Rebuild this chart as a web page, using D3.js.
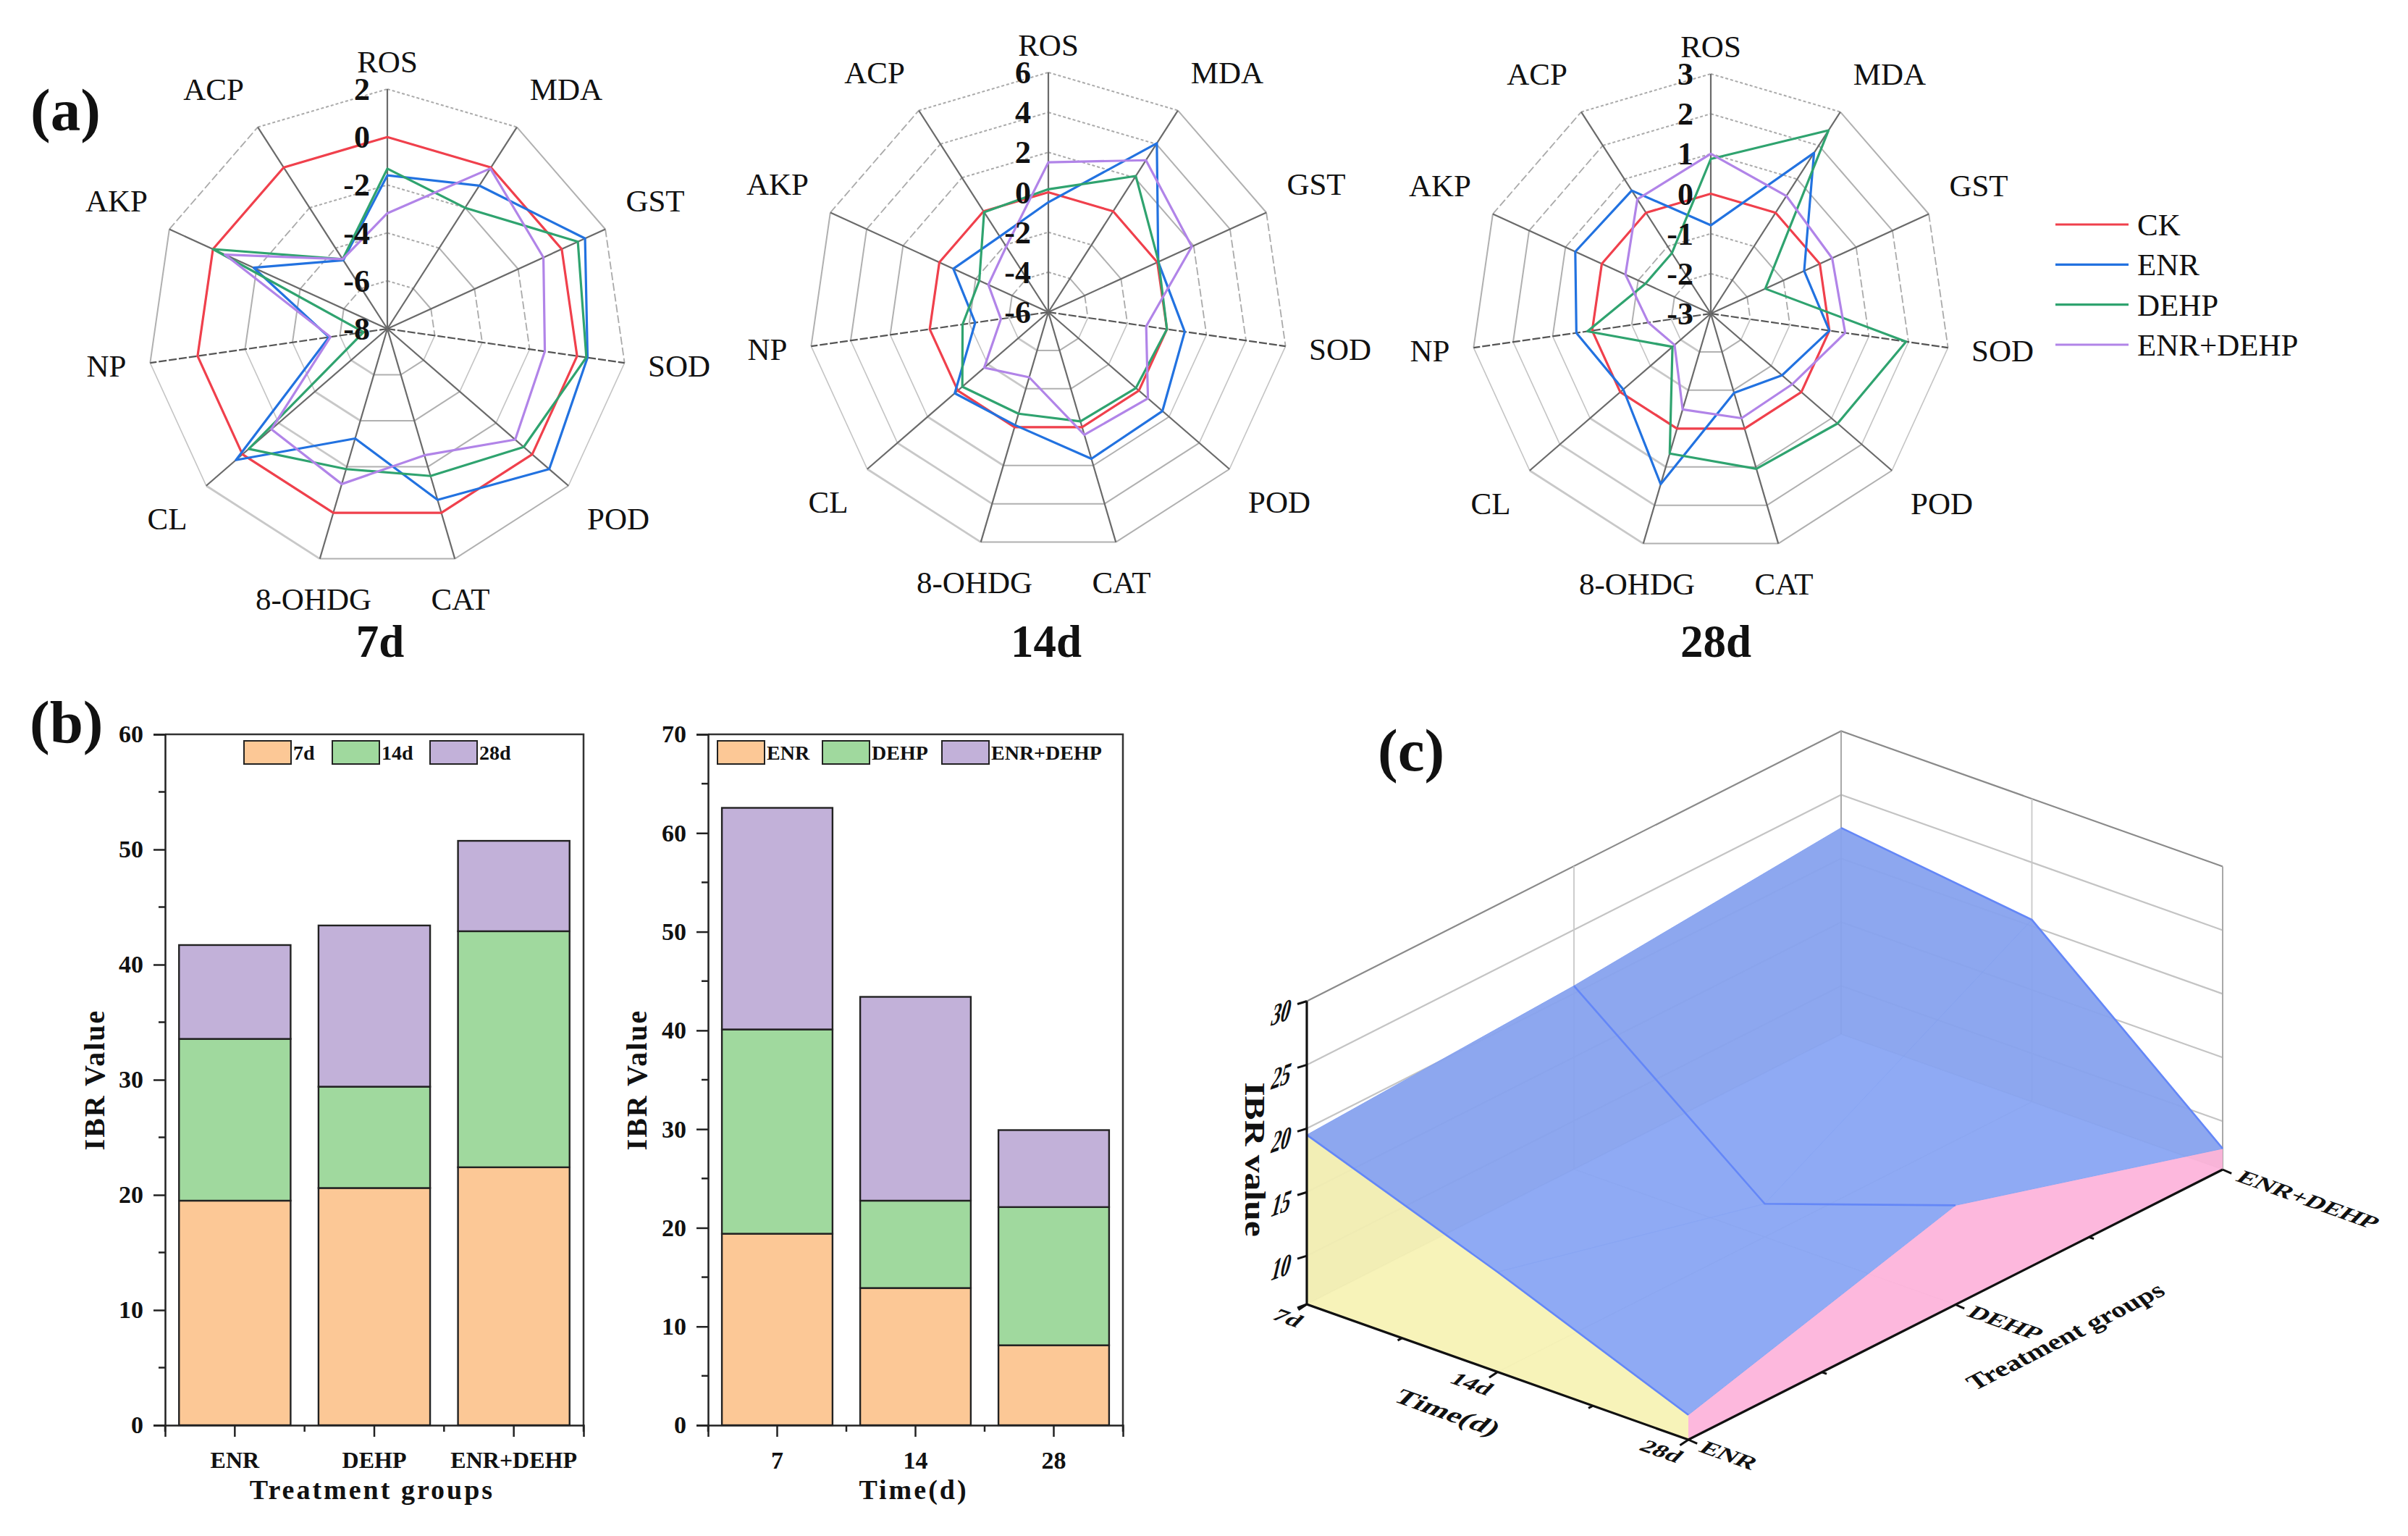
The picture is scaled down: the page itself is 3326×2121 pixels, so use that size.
<!DOCTYPE html>
<html>
<head>
<meta charset="utf-8">
<title>IBR</title>
<script src="https://cdnjs.cloudflare.com/ajax/libs/d3/7.8.5/d3.min.js"></script>
<style>
html,body{margin:0;padding:0;background:#fff;}
text{font-family:"Liberation Serif","Times New Roman",serif;fill:#111;}
</style>
</head>
<body>
<svg id="chart" width="3326" height="2121" viewBox="0 0 3326 2121"></svg>
<script>
// 데이터
var markers = ["ROS","MDA","GST","SOD","POD","CAT","8-OHDG","CL","NP","AKP","ACP"];
var radarSeries = ["CK","ENR","DEHP","ENR+DEHP"];

var ck_7d   = [0,0,0,0,0,0,0,0,0,0,0];
var enr_7d  = [-1.6,-0.9,1.07,0.44,0.94,-0.56,-3.23,0.36,-5.54,-1.87,-4.6];
var dehp_7d = [-1.32,-2,0.74,0.39,-0.47,-1.6,-1.9,-0.35,-7,0,-4.55];
var both_7d = [-3.18,-0.05,-0.84,-1.36,-0.94,-2.5,-1.25,-1.6,-5.6,-0.55,-4.55];

var ck_14d   = [0,0,0,0,0,0,0,0,0,0,0];
var enr_14d  = [-0.5,4.05,0.05,0.9,1.56,1.65,-0.1,0.2,-2.3,-0.77,-1.5];
var dehp_14d = [0.15,2.1,0.07,0,-0.2,-0.3,-0.7,-0.3,-1.66,-2.2,-0.05];
var both_14d = [1.5,3.04,1.9,-1.05,0.6,0.4,-2.6,-1.75,-3.6,-2.7,-2.1];

var ck_28d   = [0,0,0,0,0,0,0,0,0,0,0];
var enr_28d  = [-0.79,1.78,-0.43,0,-0.64,-0.93,1.45,-0.1,0.4,0.73,0.66];
var dehp_28d = [0.87,2.45,-1.5,1.94,1.2,1.05,0.65,-1.73,0.12,-1.2,-1.2];
var both_28d = [1,0.5,0.34,0.4,-0.3,-0.27,-0.5,-1.8,-1.42,-0.65,0.4];

var groups = ["ENR","DEHP","ENR+DEHP"];
var times = ["7","14","28"];
var timesD = ["7d","14d","28d"];

// b 왼쪽 (처리군별)
var ibr_7d  = [19.5,20.6,22.4];
var ibr_14d = [14.05,8.8,20.5];
var ibr_28d = [8.15,14,7.85];
// b 오른쪽 (시간별)
var ibr_enr  = [19.4,13.9,8.1];
var ibr_dehp = [20.7,8.85,14];
var ibr_both = [22.45,20.65,7.8];

var leftTicks = [0,10,20,30,40,50,60];
var rightTicks = [0,10,20,30,40,50,60,70];
var zTicks = [10,15,20,25,30];

// 색
var radarColors = ["#f0404c","#2272e0","#2fa36f","#b184e8"];
var barColors = ["#fcc896","#a0d99e","#c2b1d9"];

var svg = d3.select("#chart");
svg.append("rect").attr("width",3326).attr("height",2121).attr("fill","#fff");

// 패널 라벨
function panelLabel(s,x,y){
    svg.append("text").attr("x",x).attr("y",y).attr("font-size",83).attr("font-weight","bold").text(s);
}
panelLabel("(a)",42,180);
panelLabel("(b)",41,1025);
panelLabel("(c)",1903,1064);

// 레이더 차트
var labelOffsets = [[0,-354],[247,-316],[370,-162],[403,66],[319,277],[101,388],[-102,388],[-304,277],[-388,66],[-374,-162],[-240,-316]];
// 고리 구간 선 모양 (화면에서 보이는대로)
var ringDash = ["4 3",null,"11 4",null,null,null,null,null,null,"11 4","4 3"];
var ringWidth = [2,2,1.8,1.6,2,2,2.8,1.6,2,1.8,2];
var ringColor = ["#aaa","#b0b0b0","#aaa","#c4c4c4","#b0b0b0","#b0b0b0","#c8c8c8","#c4c4c4","#b0b0b0","#aaa","#aaa"];

function make_radar(cx,cy,domain,ticks,series,title,titleX){
    var R = 331;
    var r = d3.scaleLinear().domain(domain).range([0,R]);
    var angle = d3.scalePoint().domain(markers).range([0,2*Math.PI*10/11]);
    var g = svg.append("g").attr("transform","translate("+cx+","+cy+")");

    function pt(name,v){
        var a = angle(name);
        return [r(v)*Math.sin(a),-r(v)*Math.cos(a)];
    }
    // 고리
    ticks.slice(0,ticks.length-1).forEach(function(t){
        markers.forEach(function(m,i){
            var p0 = pt(m,t), p1 = pt(markers[(i+1)%markers.length],t);
            g.append("line").attr("x1",p0[0]).attr("y1",p0[1]).attr("x2",p1[0]).attr("y2",p1[1])
             .attr("stroke",ringColor[i]).attr("stroke-width",ringWidth[i])
             .attr("stroke-dasharray",ringDash[i]);
        });
    });
    // 축
    markers.forEach(function(m){
        var p = pt(m,domain[1]);
        var dashed = (m=="SOD"||m=="NP");
        g.append("line").attr("x1",0).attr("y1",0).attr("x2",p[0]).attr("y2",p[1])
         .attr("stroke",dashed?"#555":"#6a6a6a").attr("stroke-width",2.2)
         .attr("stroke-dasharray",dashed?"11 3":null);
    });
    // 선
    var line = d3.lineRadial()
        .angle(function(d,i){return angle(markers[i]);})
        .radius(function(d){return r(d);})
        .curve(d3.curveLinearClosed);
    series.forEach(function(arr,k){
        g.append("path").attr("d",line(arr)).attr("fill","none")
         .attr("stroke",radarColors[k]).attr("stroke-width",3.2).attr("stroke-linejoin","round");
    });
    // 눈금 글자
    ticks.forEach(function(t){
        g.append("text").attr("x",-24).attr("y",-r(t)+15).attr("text-anchor","end")
         .attr("font-size",44).attr("font-weight","bold").text(t);
    });
    // 축 이름
    markers.forEach(function(m,i){
        g.append("text").attr("x",labelOffsets[i][0]).attr("y",labelOffsets[i][1])
         .attr("text-anchor","middle").attr("font-size",43).text(m);
    });
    svg.append("text").attr("x",titleX).attr("y",907).attr("text-anchor","middle")
       .attr("font-size",63).attr("font-weight","bold").text(title);
}
make_radar(535,454,[-8,2],[2,0,-2,-4,-6,-8],[ck_7d,enr_7d,dehp_7d,both_7d],"7d",525);
make_radar(1448,431,[-6,6],[6,4,2,0,-2,-4,-6],[ck_14d,enr_14d,dehp_14d,both_14d],"14d",1445);
make_radar(2363,433,[-3,3],[3,2,1,0,-1,-2,-3],[ck_28d,enr_28d,dehp_28d,both_28d],"28d",2370);

// 범례
var lg = d3.scalePoint().domain(radarSeries).range([310,476]);
radarSeries.forEach(function(s,i){
    svg.append("line").attr("x1",2839).attr("x2",2940).attr("y1",lg(s)).attr("y2",lg(s))
       .attr("stroke",radarColors[i]).attr("stroke-width",3.2);
    svg.append("text").attr("x",2952).attr("y",lg(s)+15).attr("font-size",43).text(s);
});

// 누적 막대
function make_stack_bar(opt){
    var x = d3.scaleBand().domain(opt.cats).range([opt.x0,opt.x1]).paddingInner(0.2).paddingOuter(0.1);
    var y = d3.scaleLinear().domain([0,opt.max]).range([1968,1014]);
    var g = svg.append("g");

    opt.cats.forEach(function(c,i){
        var base = 0;
        opt.series.forEach(function(arr,k){
            var top = base+arr[i];
            g.append("rect").attr("x",x(c)).attr("width",x.bandwidth())
             .attr("y",y(top)).attr("height",y(base)-y(top))
             .attr("fill",barColors[k]).attr("stroke","#222").attr("stroke-width",2.4);
            base = top;
        });
    });
    // 테두리
    g.append("path").attr("d","M"+opt.x0+",1014H"+opt.x1+"V1968").attr("fill","none").attr("stroke","#333").attr("stroke-width",2.5);

    // y축
    var yAxis = d3.axisLeft(y).tickValues(opt.ticks).tickSize(16).tickPadding(14);
    var ya = g.append("g").attr("transform","translate("+opt.x0+",0)").call(yAxis);
    ya.selectAll("text").attr("font-size",34).attr("font-family","Liberation Serif").attr("font-weight","bold");
    ya.selectAll("path,line").attr("stroke","#222").attr("stroke-width",2.5);
    // 작은 눈금
    opt.ticks.slice(0,opt.ticks.length-1).forEach(function(t){
        g.append("line").attr("x1",opt.x0-9).attr("x2",opt.x0).attr("y1",y(t+5)).attr("y2",y(t+5)).attr("stroke","#222").attr("stroke-width",2.5);
    });
    // x축
    var xAxis = d3.axisBottom(x).tickSize(16).tickPadding(20);
    var xa = g.append("g").attr("transform","translate(0,1968)").call(xAxis);
    xa.selectAll("text").attr("font-size",opt.xFont).attr("font-family","Liberation Serif").attr("font-weight","bold");
    xa.selectAll("path,line").attr("stroke","#222").attr("stroke-width",2.5);
    d3.range(opt.cats.length+1).forEach(function(i){
        var px = opt.x0+i*(opt.x1-opt.x0)/opt.cats.length;
        g.append("line").attr("x1",px).attr("x2",px).attr("y1",1968).attr("y2",1977).attr("stroke","#222").attr("stroke-width",2.5);
    });

    g.append("text").attr("transform","translate("+opt.ylabelX+",1491) rotate(-90)")
     .attr("text-anchor","middle").attr("font-size",40).attr("font-weight","bold").attr("letter-spacing",2).text("IBR Value");
    g.append("text").attr("x",opt.xlabelX).attr("y",2070).attr("text-anchor","middle")
     .attr("font-size",38).attr("font-weight","bold").attr("letter-spacing",3).text(opt.xlabel);

    // 범례
    opt.legend.forEach(function(s,k){
        g.append("rect").attr("x",opt.legendX[k]).attr("y",1023).attr("width",65).attr("height",32)
         .attr("fill",barColors[k]).attr("stroke","#222").attr("stroke-width",2);
        g.append("text").attr("x",opt.legendX[k]+68).attr("y",1049).attr("font-size",28).attr("font-weight","bold").text(s);
    });
}
make_stack_bar({cats:groups,series:[ibr_7d,ibr_14d,ibr_28d],max:60,ticks:leftTicks,x0:228,x1:806,
    xFont:32,xlabel:"Treatment groups",xlabelX:514,ylabelX:144,legend:timesD,legendX:[337,459,594]});
make_stack_bar({cats:times,series:[ibr_enr,ibr_dehp,ibr_both],max:70,ticks:rightTicks,x0:978,x1:1551,
    xFont:34,xlabel:"Time(d)",xlabelX:1262,ylabelX:893,legend:groups,legendX:[991,1136,1301]});

// 3D 면 (c)
var ox=1805, oy=1801, tvx=527, tvy=187, gvx=738, gvy=-373;
var timeS = d3.scalePoint().domain(timesD).range([0,1]);
var groupS = d3.scalePoint().domain(groups).range([0,1]);
var zS = d3.scaleLinear().domain([6.2,30]).range([0,418.5]);
function project(t,g,z){
    return [ox+t*tvx+g*gvx, oy+t*tvy+g*gvy-zS(z)];
}
var poly = d3.line();
var c = svg.append("g");
function wire(points,color,w){
    c.append("path").attr("d",poly(points)).attr("fill","none").attr("stroke",color).attr("stroke-width",w);
}
// 벽 격자
zTicks.forEach(function(z){
    var col = z==30?"#8a8a8a":"#c4c4c4";
    wire([project(0,0,z),project(0,1,z),project(1,1,z)],col,2.2);
});
wire([project(0,.5,6.2),project(0,.5,30)],"#c8c8c8",1.8);
wire([project(.5,1,6.2),project(.5,1,30)],"#c8c8c8",1.8);
wire([project(0,1,6.2),project(0,1,30)],"#a8a8a8",2);
wire([project(1,1,6.2),project(1,1,30)],"#a8a8a8",2);
wire([project(0,0,6.2),project(0,1,6.2),project(1,1,6.2)],"#c4c4c4",2);
wire([project(.5,0,6.2),project(.5,1,6.2)],"#c8c8c8",1.8);
wire([project(0,.5,6.2),project(1,.5,6.2)],"#c8c8c8",1.8);

var surface = [ibr_7d,ibr_14d,ibr_28d];
function sp(ti,gi){
    return project(timeS(timesD[ti]),groupS(groups[gi]),surface[ti][gi]);
}
// 옆면
var yellowWall = [project(0,0,6.2),sp(0,0),sp(1,0),sp(2,0),project(1,0,6.2)];
var pinkWall = [project(1,0,6.2),sp(2,0),sp(2,1),sp(2,2),project(1,1,6.2)];
c.append("path").attr("d",poly(yellowWall)+"Z").attr("fill","#f7f2b5").attr("fill-opacity",.94);
c.append("path").attr("d",poly(pinkWall)+"Z").attr("fill","#fdb5dc").attr("fill-opacity",.96);
// 윗면
d3.range(2).forEach(function(ti){
    d3.range(2).forEach(function(gi){
        var q = [sp(ti,gi),sp(ti+1,gi),sp(ti+1,gi+1),sp(ti,gi+1)];
        c.append("path").attr("d",poly(q)+"Z").attr("fill","#88a5f3").attr("fill-opacity",.94)
         .attr("stroke","#88a5f3").attr("stroke-width",1);
    });
});
// 바닥 뒤쪽 벽에 가려 조금 어두운 부분
var backShade = [project(0,0,6.2),sp(0,0),sp(0,1),sp(0,2),sp(1,2),sp(2,2),project(1,1,6.2),project(0,1,6.2)];
c.append("path").attr("d",poly(backShade)+"Z").attr("fill","#4a4a40").attr("fill-opacity",.028);

d3.range(3).forEach(function(gi){
    wire([sp(0,gi),sp(1,gi),sp(2,gi)],"#6487f7",2.6);
});
// 축
wire([project(0,0,30),project(0,0,6.2),project(1,0,6.2),project(1,1,6.2)],"#111",3.2);
zTicks.forEach(function(z){
    var p = project(0,0,z);
    wire([p,[p[0]-13,p[1]+4]],"#111",3);
});
wire([project(0,0,6.2),[ox-13,oy+5]],"#111",3);
[0,.25,.5,.75,1].forEach(function(t){
    var p = project(t,0,6.2);
    var len = (t*2%1==0)?13:7;
    wire([p,[p[0]-len*.89,p[1]+len*.45+ (t*2%1==0?2:0)]],"#111",3);
});
[0,.25,.5,.75,1].forEach(function(s){
    var p = project(1,s,6.2);
    var len = (s*2%1==0)?13:7;
    wire([p,[p[0]+len*.94,p[1]+len*.335+(s*2%1==0?1:0)]],"#111",3);
});

// 3D 글자 (바닥면에 눕힌 글자)
function flat(txt,x,y,size,a,b,cc,d){
    c.append("text")
     .attr("transform","matrix("+a+" "+b+" "+cc+" "+d+" "+x+" "+y+")")
     .attr("text-anchor","middle").attr("dominant-baseline","middle")
     .attr("font-size",size).attr("font-weight","bold").text(txt);
}
var timeX=[1777,2031,2293], groupX=[2386,2768,3186];
var timeY=[1822,1913,2006], groupY=[2012,1829,1659];
timesD.forEach(function(s,i){ flat(s,timeX[i],timeY[i],36,.94,.335,-.55,.58); });
groups.forEach(function(s,i){ flat(s,groupX[i],groupY[i],37,.94,.335,-.55,.58); });
flat("Time(d)",1997,1953,43,.94,.335,-.55,.58);
flat("Treatment groups",2855,1848,39,.892,-.451,.55,.65);
zTicks.forEach(function(z){
    var p = project(0,0,z);
    flat(z,p[0]-36,p[1]+20,42,.62,-.22,-.25,1.05);
});
c.append("text").attr("transform","matrix(0 1.18 -.95 0 1720 1601)")
 .attr("text-anchor","middle").attr("font-size",42).attr("font-weight","bold").text("IBR value");
</script>
</body>
</html>
